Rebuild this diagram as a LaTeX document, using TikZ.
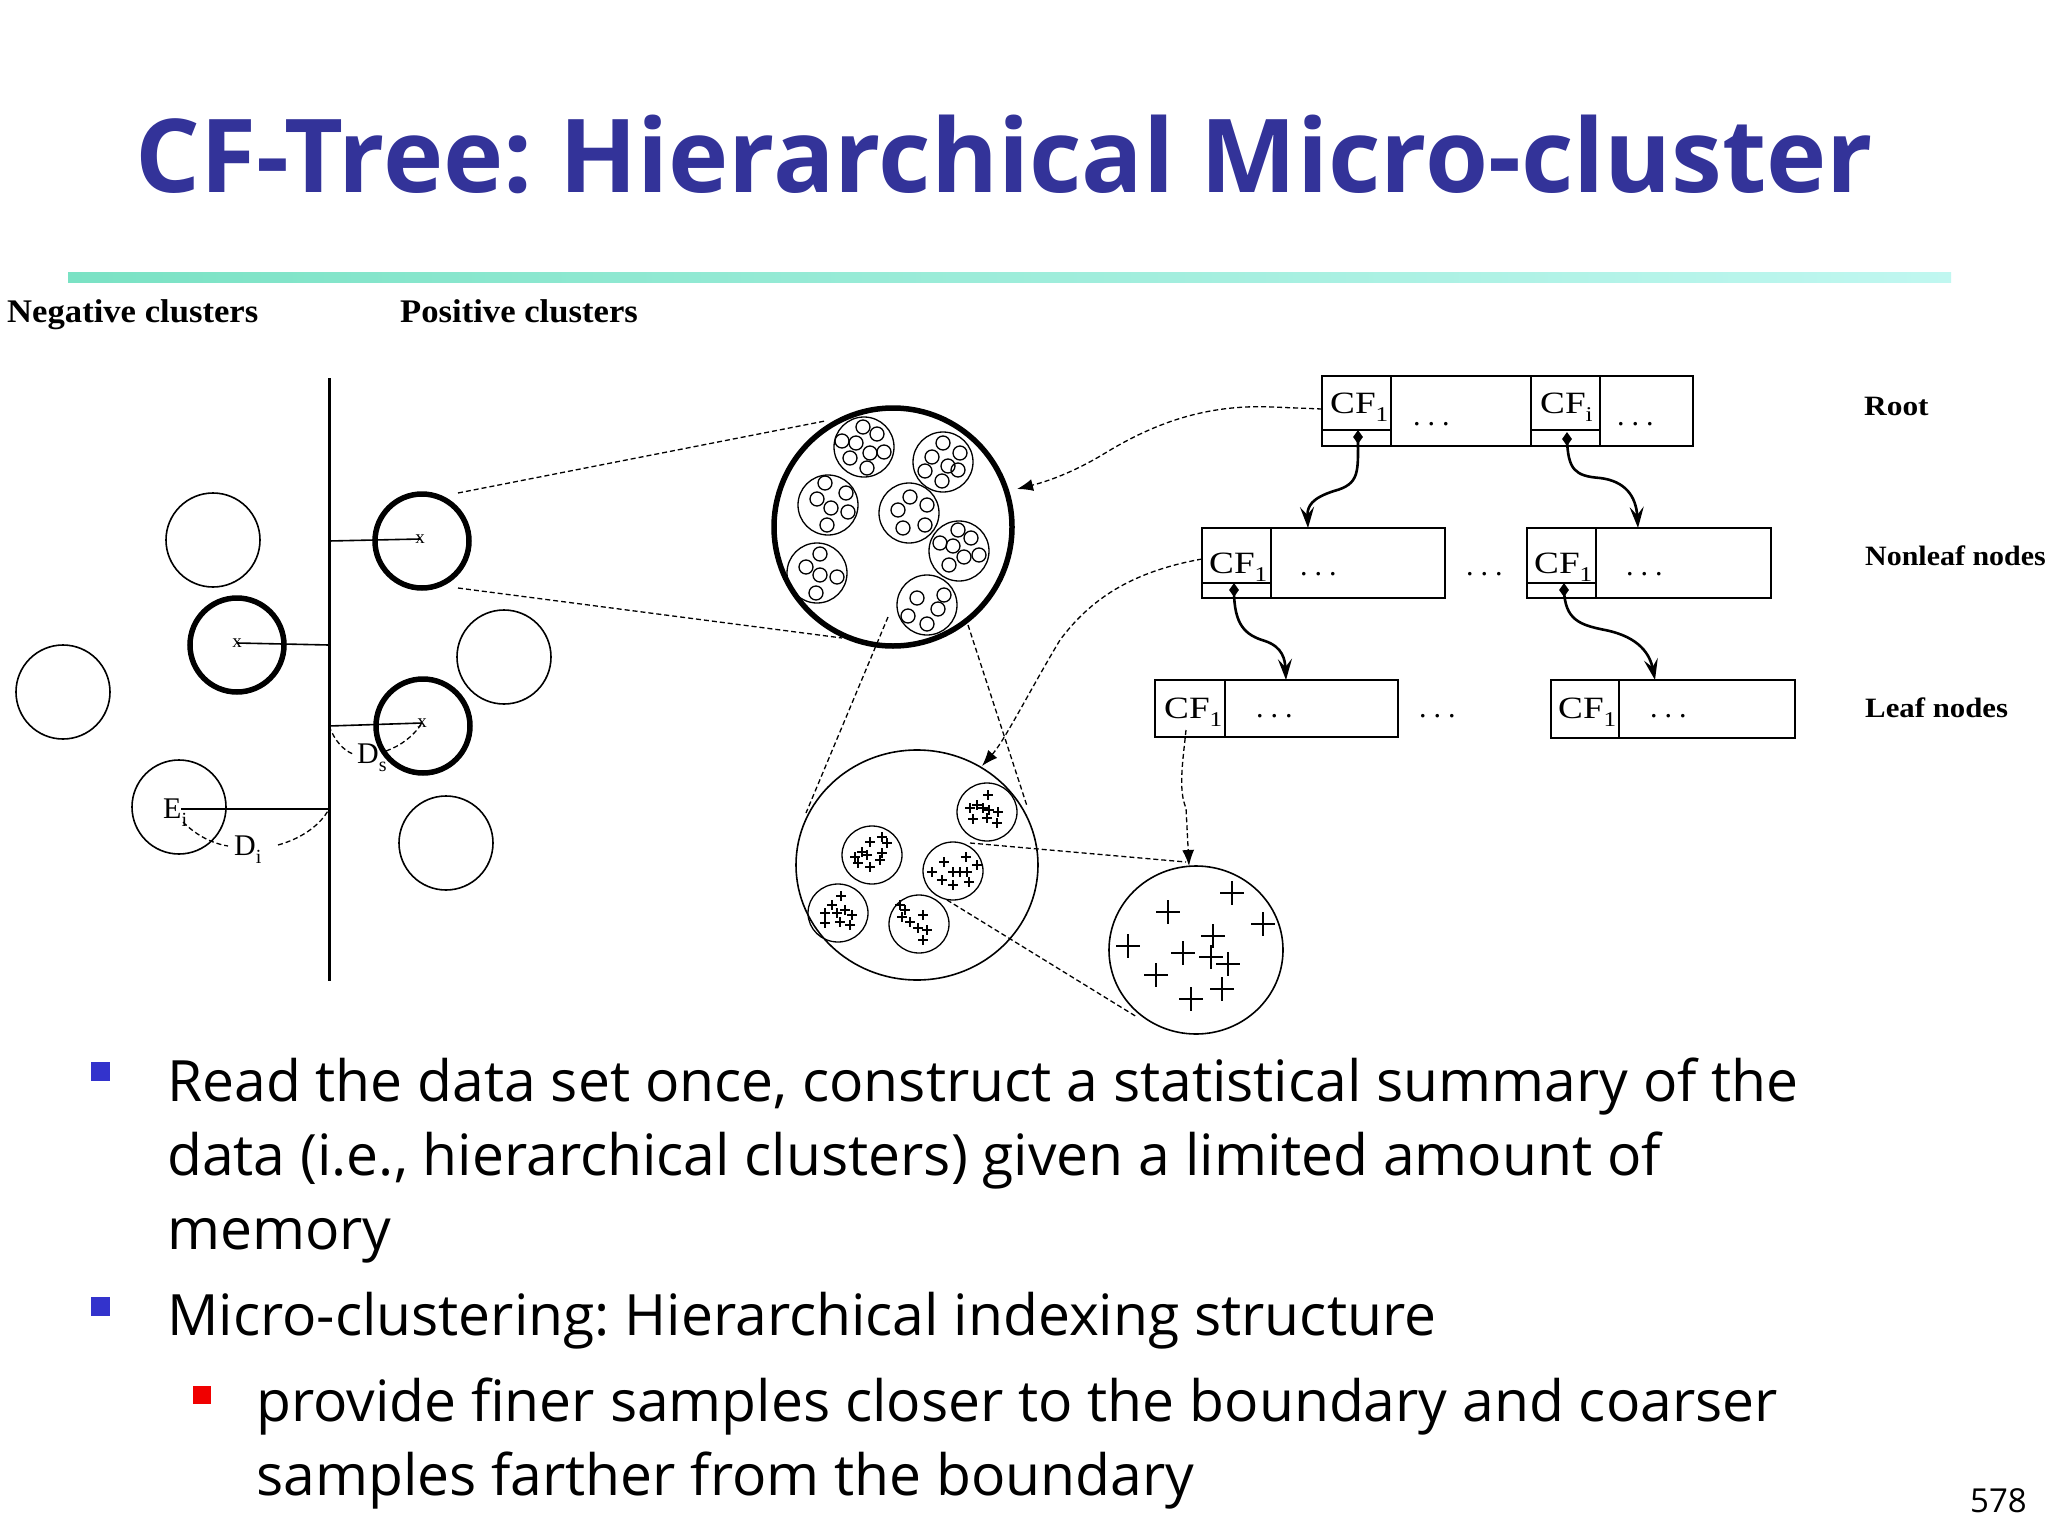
\documentclass[tikz,border=0pt]{standalone}
\usepackage{graphicx}
\usepackage{fontspec}
\setmainfont{Open Sans}
\newfontfamily\tms{Liberation Serif}
\usetikzlibrary{arrows.meta,shapes.geometric}
\definecolor{titleblue}{RGB}{51,51,153}
\definecolor{bulblue}{RGB}{51,51,204}
\definecolor{bulred}{RGB}{240,0,0}
\definecolor{rulea}{RGB}{122,226,196}
\definecolor{ruleb}{RGB}{192,247,240}
\newcommand{\fsz}[1]{\fontsize{#1}{#1}\selectfont}
\newcommand{\cfl}[1]{\scalebox{1.2}[1]{CF\raisebox{-8pt}{\fsz{21}#1}}}
\newcommand{\tdots}{.\hspace{7pt}.\hspace{7pt}.}
\newcommand{\sbs}[2]{#1\raisebox{-8pt}{\fsz{20}#2}}
\frenchspacing
\begin{document}
\begin{tikzpicture}[x=1pt,y=-1pt,
  thinc/.style={line width=1.6pt},
  thickc/.style={line width=5.5pt},
  tiny/.style={line width=1.3pt},
  tree/.style={line width=1.8pt},
  lab/.style={font=\tms\bfseries\fsz{28}, inner sep=0, anchor=base west},
  toplab/.style={font=\tms\bfseries\fsz{33}, inner sep=0, anchor=base west},
  cf/.style={font=\tms\fsz{31}, inner sep=0, anchor=base west},
  dt/.style={font=\tms\fsz{30}, inner sep=0, anchor=base west},
  mk/.style={font=\tms\fsz{19}, inner sep=0},
  dsh/.style={line width=1.3pt, dash pattern=on 5pt off 3pt},
  wavy/.style={line width=2.6pt, -{Stealth[length=21pt,width=14pt,inset=8pt]}},
  dasharrow/.style={dsh, -{Latex[length=16pt,width=12pt]}},
  dia/.style={diamond, fill=black, inner sep=0, minimum width=10pt, minimum height=14pt},
  body/.style={font=\fsz{57}, inner sep=0, anchor=base west},
  sq/.style={inner sep=0, minimum size=19pt},
  plussm/.style={line width=1.2pt},
  plusbg/.style={line width=2pt},
]
\useasboundingbox (0,0) rectangle (2048,1536);
\fill[white] (0,0) rectangle (2048,1536);

% title and rule
\node[anchor=base west, inner sep=0, text=titleblue, font=\bfseries\fsz{102}] (title) at (135,193) {CF-Tree: Hierarchical Micro-cluster};
\shade[left color=rulea, right color=ruleb] (68,272) rectangle (1951,282);

% top labels
\node[toplab] (neg) at (7,322) {\scalebox{1.05}[1]{Negative clusters}};
\node[toplab] (pos) at (400,322) {\scalebox{1.05}[1]{Positive clusters}};

% ---------- left diagram ----------
\draw[line width=3pt] (329,378) -- (329,981);
\draw[thinc] (213,540) circle[radius=47];
\draw[thickc] (237,645) circle[radius=47];
\draw[thinc] (63,692) circle[radius=47];
\draw[thinc] (179,807) circle[radius=47];
\draw[thickc] (422,541) circle[radius=47];
\draw[thinc] (504,657) circle[radius=47];
\draw[thickc] (423,726) circle[radius=47];
\draw[thinc] (446,843) circle[radius=47];
\node[mk] (x1) at (237,643) {x};
\node[mk] (x2) at (420,539) {x};
\node[mk] (x3) at (422,723) {x};
\coordinate (v1) at (329,541);
\coordinate (v2) at (329,645);
\coordinate (v3) at (329,726);
\coordinate (v4) at (329,809);
\coordinate (ei) at (181,809);
\draw[thinc] (x1.center) -- (v2);
\draw[thinc] (v1) -- (x2.center);
\draw[thinc] (v3) -- (x3.center);
\draw[thinc] (ei) -- (v4);
\node[dt] (Ei) at (163,818) {\sbs{E}{i}};
\node[dt] (Di) at (234,855) {\sbs{D}{i}};
\node[dt] (Ds) at (357,763) {\sbs{D}{s}};
\draw[dsh] (183,822) .. controls (195,834) and (210,843) .. (228,846);
\draw[dsh] (278,845) .. controls (300,839) and (320,826) .. (v4);
\draw[dsh] (v3) .. controls (335,741) and (343,750) .. (353,754);
\draw[dsh] (386,751) .. controls (400,746) and (413,737) .. (x3.center);

% zoom lines from positive cluster to big circle
\coordinate (p1a) at (458,493);
\coordinate (p1b) at (458,588);
\coordinate (bca) at (825,421);
\coordinate (bcb) at (842,638);
\draw[dsh] (p1a) -- (bca);
\draw[dsh] (p1b) -- (bcb);

% ---------- big circle ----------
\draw[thickc] (893,527) circle[radius=119];
\foreach \cx/\cy in {864/447, 943/462, 828/505, 909/513, 959/551, 817/573, 927/605}
  \draw[tiny] (\cx,\cy) circle[radius=30];
\foreach \cx/\cy in {863/427, 877/434, 842/441, 856/443, 870/453, 884/452, 867/468, 850/458,
  943/443, 960/453, 932/457, 948/466, 925/471, 942/481, 958/470,
  825/483, 846/493, 817/499, 831/508, 848/512, 827/525,
  910/497, 927/505, 898/510, 903/528, 925/525,
  958/530, 971/538, 940/543, 953/546, 964/557, 979/555, 949/565,
  820/554, 806/567, 820/575, 837/577, 816/593,
  917/598, 944/595, 938/609, 908/616, 927/624}
  \draw[tiny] (\cx,\cy) circle[radius=7];

% zoom lines to bottom ellipse
\coordinate (z1a) at (888,617);
\coordinate (z1b) at (806,813);
\coordinate (z2a) at (968,625);
\coordinate (z2b) at (1027,806);
\draw[dsh] (z1a) -- (z1b);
\draw[dsh] (z2a) -- (z2b);

% ---------- bottom ellipse ----------
\draw[thinc] (917,865) ellipse[x radius=121, y radius=115];
\foreach \cx/\cy in {987/812, 872/855, 953/871, 838/913, 919/924}
  \draw[tiny] (\cx,\cy) ellipse[x radius=30, y radius=29];
\foreach \px/\py in {988/795, 977/805, 970/808, 983/808, 989/810, 998/812, 973/819, 987/818, 997/823,
  870/842, 882/837, 887/843, 862/852, 855/857, 867/855, 882/853, 858/863, 870/867, 880/860,
  944/862, 966/857, 977/865, 932/872, 953/872, 960/872, 967/872, 942/880, 953/885, 969/882,
  841/896, 832/905, 845/910, 825/913, 837/913, 852/915, 825/923, 840/922, 850/925,
  900/905, 905/910, 923/915, 902/917, 910/922, 918/928, 927/930, 923/940}
  \draw[plussm] (\px-5,\py) -- (\px+5,\py) (\px,\py-5) -- (\px,\py+5);

% zoom lines to right circle
\coordinate (c1a) at (970,843);
\coordinate (c1b) at (1186,862);
\coordinate (c2a) at (947,900);
\coordinate (c2b) at (1137,1017);
\draw[dsh] (c1a) -- (c1b);
\draw[dsh] (c2a) -- (c2b);

% ---------- right circle ----------
\draw[thinc] (1196,950) ellipse[x radius=87, y radius=84];
\foreach \px/\py in {1232/893, 1168/912, 1263/924, 1213/936, 1128/946, 1183/953, 1211/957,
  1228/964, 1156/975, 1222/989, 1191/999}
  \draw[plusbg] (\px-12,\py) -- (\px+12,\py) (\px,\py-12) -- (\px,\py+12);

% ---------- tree ----------
% root
\draw[tree] (1322,376) rectangle (1693,446);
\draw[tree] (1391,376) -- (1391,446) (1531,376) -- (1531,446) (1600,376) -- (1600,446);
\draw[line width=2.6pt] (1322,430) -- (1391,430) (1531,430) -- (1600,430);
\node[cf] (rcf1) at (1330,413) {\cfl{1}};
\node[cf] (rcfi) at (1540,413) {\cfl{i}};
\node[dt] (rdot1) at (1413,425) {\tdots};
\node[dt] (rdot2) at (1617,425) {\tdots};
\node[dia] (rd1) at (1358,437) {};
\node[dia] (rd2) at (1567,439) {};
% nonleaf
\draw[tree] (1202,528) rectangle (1445,598);
\draw[tree] (1271,528) -- (1271,598) (1202,583) -- (1271,583);
\draw[tree] (1527,528) rectangle (1771,598);
\draw[tree] (1596,528) -- (1596,598) (1527,583) -- (1596,583);
\node[cf] (ncf1) at (1209,573) {\cfl{1}};
\node[cf] (ncf2) at (1534,573) {\cfl{1}};
\node[dt] (ndot1) at (1300,575) {\tdots};
\node[dt] (ndot2) at (1466,575) {\tdots};
\node[dt] (ndot3) at (1626,575) {\tdots};
\node[dia] (nd1) at (1234,590) {};
\node[dia] (nd2) at (1564,590) {};
% leaf
\draw[tree] (1155,680) rectangle (1398,737);
\draw[tree] (1225,680) -- (1225,737);
\draw[tree] (1551,680) rectangle (1795,738);
\draw[tree] (1619,680) -- (1619,738);
\node[cf] (lcf1) at (1164,718) {\cfl{1}};
\node[cf] (lcf2) at (1558,718) {\cfl{1}};
\node[dt] (ldot1) at (1256,717) {\tdots};
\node[dt] (ldot2) at (1419,717) {\tdots};
\node[dt] (ldot3) at (1650,717) {\tdots};

\coordinate (nl1top) at (1308,528);
\coordinate (nl2top) at (1638,528);
\coordinate (l1top) at (1286,680);
\coordinate (l2top) at (1655,680);
\draw[wavy] (rd1.center) .. controls (1358,472) and (1360,484) .. (1334,491) .. controls (1312,498) and (1307,506) .. (nl1top);
\draw[wavy] (rd2.center) .. controls (1568,470) and (1575,476) .. (1600,478) .. controls (1625,481) and (1636,496) .. (nl2top);
\draw[wavy] (nd1.center) .. controls (1234,625) and (1245,635) .. (1265,641) .. controls (1283,647) and (1285,660) .. (l1top);
\draw[wavy] (nd2.center) .. controls (1565,620) and (1580,625) .. (1605,630) .. controls (1640,637) and (1650,655) .. (l2top);

% tree labels
\node[lab] (lroot) at (1864,415) {\scalebox{1.12}[1]{Root}};
\node[lab] (lnon) at (1865,565) {\scalebox{1.07}[1]{Nonleaf nodes}};
\node[lab] (lleaf) at (1865,717) {\scalebox{1.1}[1]{Leaf nodes}};

% dashed pointer arrows
\coordinate (rcfw) at (1322,409);
\coordinate (bigarr) at (1017,489);
\coordinate (ncfw) at (1202,559);
\coordinate (botarr) at (982,766);
\coordinate (lcfs) at (1186,730);
\coordinate (rcarr) at (1189,866);
\draw[dasharrow] (rcfw) -- (1272,407) .. controls (1205,404) and (1152,424) .. (1102,455) .. controls (1070,474) and (1045,482) .. (bigarr);
\draw[dasharrow] (ncfw) .. controls (1130,572) and (1090,600) .. (1060,640) .. controls (1030,690) and (1005,740) .. (botarr);
\draw[dasharrow] (lcfs) .. controls (1183,760) and (1178,790) .. (1186,808) -- (rcarr);

% ---------- bullets ----------
\node[sq, fill=bulblue] (b1) at (100.5,1071.5) {};
\node[sq, fill=bulblue] (b2) at (100.5,1306) {};
\node[sq, minimum size=18pt, fill=bulred] (b3) at (202,1394.5) {};
\node[body] (t1) at (167,1101) {Read the data set once, construct a statistical summary of the};
\node[body] (t2) at (167,1175) {data (i.e., hierarchical clusters) given a limited amount of};
\node[body] (t3) at (167,1249) {memory};
\node[body] (t4) at (167,1335) {Micro-clustering: Hierarchical indexing structure};
\node[body] (t5) at (256,1421) {provide finer samples closer to the boundary and coarser};
\node[body] (t6) at (256,1495) {samples farther from the boundary};
\node[anchor=base west, inner sep=0, font=\fsz{33}] (pg) at (1970,1512) {578};
\end{tikzpicture}
\end{document}
